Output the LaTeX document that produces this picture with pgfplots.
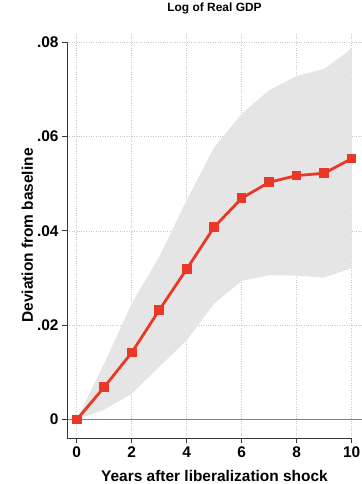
\documentclass[border=0pt]{standalone}
\usepackage{pgfplots}
\pgfplotsset{compat=1.18}
\usepgfplotslibrary{fillbetween}
\usepackage{fontspec}
\setmainfont{Liberation Sans}
\definecolor{bandgray}{RGB}{229,229,229}
\definecolor{lred}{RGB}{234,56,40}
\definecolor{axgray}{RGB}{55,55,55}
\definecolor{zerogray}{RGB}{128,128,128}
\begin{document}
\begin{tikzpicture}
\begin{axis}[
  at={(0,0)}, anchor=south west,
  scale only axis, width=295bp, height=405bp,
  xmin=-0.353, xmax=10.375, ymin=-0.00388, ymax=0.0819,
  axis line style={draw=none},
  scaled y ticks=false, scaled x ticks=false,
  xtick={0,2,4,6,8,10}, xticklabels={0,2,4,6,8,10},
  ytick={0,0.02,0.04,0.06,0.08}, yticklabels={0,.02,.04,.06,.08},
  xtick pos=bottom, ytick pos=left,
  tick align=outside, major tick length=5bp,
  tick style={axgray, line width=0.8bp},
  grid=major, grid style={dotted, black!22, line width=0.6bp},
  ticklabel style={font=\fontsize{15.5}{17}\selectfont\bfseries},
  xlabel={Years after liberalization shock},
  ylabel={Deviation from baseline},
  label style={font=\fontsize{15.5}{17}\selectfont\bfseries},
  xlabel style={at={(rel axis cs:0.5,-0.1086)}, anchor=base},
  ylabel style={at={(rel axis cs:-0.1153,0.5)}, anchor=base},
  title={Log of Real GDP},
  title style={font=\fontsize{12}{14}\selectfont\bfseries, at={(rel axis cs:0.5,1.0395)}, anchor=base},
  clip=false,
]
\addplot[name path=up, draw=none, forget plot] coordinates {
(0,0) (1,0.0119) (2,0.0246) (3,0.0345) (4,0.0465) (5,0.0577)
(6,0.0648) (7,0.0698) (8,0.0728) (9,0.0743) (10,0.0786)};
\addplot[name path=lo, draw=none, forget plot] coordinates {
(0,0) (1,0.0021) (2,0.0055) (3,0.0112) (4,0.0168) (5,0.0246)
(6,0.0294) (7,0.0306) (8,0.0305) (9,0.0301) (10,0.0321)};
\addplot[bandgray, draw=none, forget plot] fill between[of=up and lo];
\draw[zerogray, line width=1.4bp] (axis cs:-0.353,0) -- (axis cs:10.375,0);
\draw[axgray, line width=0.9bp] (axis cs:-0.353,0.08) -- (axis cs:-0.353,-0.00388) -- (axis cs:10,-0.00388);
\addplot[lred, line width=2.8bp, mark=square*, mark size=3.4bp, mark options={solid}] coordinates {
(0,0) (1,0.0069) (2,0.0142) (3,0.0232) (4,0.0319) (5,0.0408)
(6,0.0469) (7,0.0503) (8,0.0517) (9,0.0522) (10,0.0553)};
\end{axis}
\pgfresetboundingbox
\path[use as bounding box] (-67bp,-46bp) rectangle (295bp,438bp);
\end{tikzpicture}
\end{document}
